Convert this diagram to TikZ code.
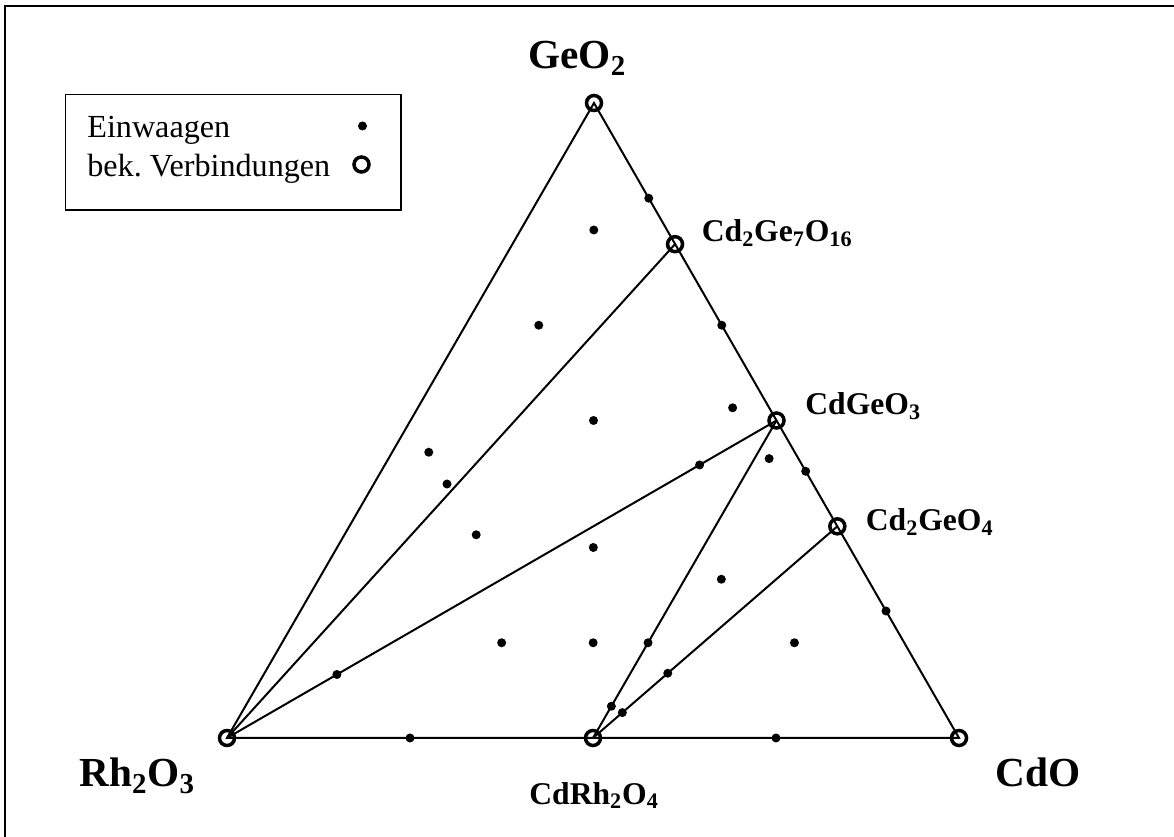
\documentclass[tikz,border=0pt]{standalone}
\usepackage{fontspec}
\setmainfont{Liberation Serif}
\usetikzlibrary{positioning,calc}

\begin{document}
\begin{tikzpicture}[
  edge/.style={line width=0.04cm},
  known/.style={draw, circle, line width=0.07cm, minimum size=0.3cm, inner sep=0pt},
  dot/.style={fill, circle, minimum size=0.18cm, inner sep=0pt},
  corner/.style={font=\fontsize{23.5}{28}\selectfont\bfseries, anchor=base west, inner sep=0pt},
  phase/.style={font=\fontsize{18}{22}\selectfont\bfseries, anchor=base west, inner sep=0pt},
  legend/.style={font=\fontsize{18.3}{21}\selectfont, anchor=base west, inner sep=0pt},
]
\useasboundingbox (0,0) rectangle (23.48,16.72);
\draw[line width=0.04cm] (0.1,-1) rectangle (25,16.6);
% --- triangle corners and compounds ---
\coordinate (R) at (4.54,1.96);
\coordinate (C) at (19.18,1.96);
\coordinate (G) at (11.88,14.66);
\coordinate (cd2ge7) at (barycentric cs:C=2,G=7);
\coordinate (cdgeo3) at (barycentric cs:C=1,G=1);
\coordinate (cd2geo4) at (barycentric cs:C=2,G=1);
\coordinate (cdrh) at (barycentric cs:R=1,C=1);
\draw[edge] (R) -- (C) -- (G) -- cycle;
\draw[edge] (R) -- (cd2ge7);
\draw[edge] (R) -- (cdgeo3);
\draw[edge] (cdrh) -- (cdgeo3);
\draw[edge] (cdrh) -- (cd2geo4);
% --- weighed samples ---
\foreach \a/\b/\c [count=\i] in {0/0.15/0.85, 0.1/0.1/0.8, 0/0.35/0.65, 0.25/0.1/0.65,
    0.25/0.25/0.5, 0.05/0.43/0.52, 0.5/0.05/0.45, 0.5/0.1/0.4, 0.14/0.43/0.43,
    0.04/0.52/0.44, 0/0.58/0.42, 0.5/0.18/0.32, 0.35/0.35/0.3, 0.2/0.55/0.25,
    0/0.8/0.2, 0.55/0.3/0.15, 0.425/0.425/0.15, 0.35/0.5/0.15, 0.15/0.7/0.15,
    0.347/0.551/0.102, 0.8/0.1/0.1, 0.45/0.5/0.05, 0.44/0.52/0.04, 0.75/0.25/0, 0.25/0.75/0}
  \node[dot] (e\i) at (barycentric cs:R=\a,C=\b,G=\c) {};
% --- known compounds ---
\foreach \p in {R,C,G,cd2ge7,cdgeo3,cd2geo4,cdrh}
  \node[known] (k-\p) at (\p) {};
% --- labels ---
\node[corner] (lG) at (10.56,15.34) {GeO\textsubscript{2}};
\node[corner] (lR) at (1.58,0.98) {Rh\textsubscript{2}O\textsubscript{3}};
\node[corner] (lC) at (19.9,0.98) {CdO};
\node[phase] (lcdrh) at (10.58,0.64) {CdRh\textsubscript{2}O\textsubscript{4}};
\node[phase] (lcd2ge7) at (14.03,11.89) {Cd\textsubscript{2}Ge\textsubscript{7}O\textsubscript{16}};
\node[phase] (lcdgeo3) at (16.1,8.43) {CdGeO\textsubscript{3}};
\node[phase] (lcd2geo4) at (17.31,6.11) {Cd\textsubscript{2}GeO\textsubscript{4}};
% --- legend ---
\draw[line width=0.03cm] (1.31,12.52) rectangle (8.02,14.83);
\node[legend] (t1) at (1.74,13.96) {Einwaagen};
\node[legend] (t2) at (1.74,13.19) {bek.\ Verbindungen};
\node[dot] (m1) at (7.25,14.20) {};
\node[known] (m2) at (7.23,13.43) {};
\end{tikzpicture}
\end{document}
